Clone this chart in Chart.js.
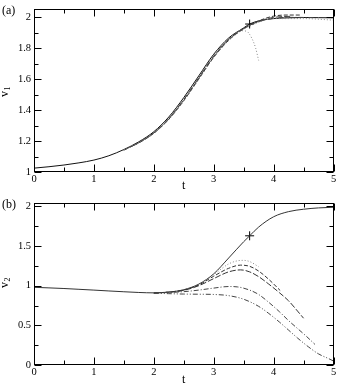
<!DOCTYPE html>
<html>
<head>
<meta charset="utf-8">
<script src="https://cdn.jsdelivr.net/npm/chart.js@4.4.1/dist/chart.umd.min.js"></script>
<style>
  html, body { margin: 0; padding: 0; background: #fff; }
  #wrap { position: relative; width: 339px; height: 388px; overflow: hidden; }
  canvas { position: absolute; left: 0; }
</style>
</head>
<body>
<div id="wrap">
  <canvas id="ca" width="339" height="194" style="top:0"></canvas>
  <canvas id="cb" width="339" height="194" style="top:194px"></canvas>
</div>
<script>
// ---------- tick labels ----------
const xTicks = [0, 1, 2, 3, 4, 5];
const xTickLabels = ["0", "1", "2", "3", "4", "5"];
const xMinor = [0.5, 1.5, 2.5, 3.5, 4.5];
const y1Ticks = [1, 1.2, 1.4, 1.6, 1.8, 2];
const y1TickLabels = ["1", "1.2", "1.4", "1.6", "1.8", "2"];
const y1Minor = [1.1, 1.3, 1.5, 1.7, 1.9];
const y2Ticks = [0, 0.5, 1, 1.5, 2];
const y2TickLabels = ["0", "0.5", "1", "1.5", "2"];
const y2Minor = [0.25, 0.75, 1.25, 1.75];

// ---------- panel (a): v1 ----------
const aSolidT = [0, 0.25, 0.5, 0.75, 1, 1.25, 1.5, 1.75, 2, 2.25, 2.5, 2.75, 3, 3.25, 3.5, 3.6, 3.75, 4, 4.25, 4.5, 4.75, 5];
const aSolidV = [1.025, 1.034, 1.045, 1.059, 1.077, 1.105, 1.145, 1.195, 1.26, 1.355, 1.48, 1.62, 1.76, 1.865, 1.93, 1.955, 1.975, 1.99, 1.995, 1.997, 1.996, 1.995];
const a1T = [1.5, 1.75, 2, 2.25, 2.5, 2.75, 3, 3.25, 3.45, 3.55, 3.64, 3.7, 3.75];
const a1V = [1.143, 1.19, 1.252, 1.342, 1.462, 1.6, 1.742, 1.85, 1.912, 1.908, 1.86, 1.8, 1.72];
const a2T = [1.5, 1.75, 2, 2.25, 2.5, 2.75, 3, 3.25, 3.5, 3.75, 4, 4.25, 4.47];
const a2V = [1.142, 1.188, 1.25, 1.34, 1.46, 1.6, 1.74, 1.85, 1.925, 1.975, 2.006, 2.013, 2.013];
const a3T = [1.5, 1.75, 2, 2.25, 2.5, 2.75, 3, 3.25, 3.5, 3.75, 4, 4.3];
const a3V = [1.142, 1.189, 1.251, 1.343, 1.465, 1.605, 1.745, 1.855, 1.925, 1.972, 1.998, 2.005];
const a4T = [1.5, 1.75, 2, 2.25, 2.5, 2.75, 3, 3.25, 3.5, 3.75, 4, 4.35, 4.7];
const a4V = [1.143, 1.19, 1.253, 1.345, 1.468, 1.608, 1.748, 1.857, 1.926, 1.97, 1.992, 1.998, 1.996];
const a5T = [1.5, 1.75, 2, 2.25, 2.5, 2.75, 3, 3.25, 3.5, 3.75, 4, 4.5, 5];
const a5V = [1.142, 1.188, 1.249, 1.338, 1.458, 1.598, 1.738, 1.848, 1.92, 1.965, 1.99, 1.99, 1.98];
const aMarkT = [3.6];
const aMarkV = [1.955];

// ---------- panel (b): v2 ----------
const bSolidT = [0, 0.25, 0.5, 0.75, 1, 1.25, 1.5, 1.75, 2, 2.25, 2.5, 2.75, 3, 3.25, 3.5, 3.6, 3.75, 4, 4.25, 4.5, 4.75, 5];
const bSolidV = [0.98, 0.973, 0.965, 0.955, 0.945, 0.934, 0.924, 0.915, 0.91, 0.92, 0.95, 1.02, 1.15, 1.35, 1.555, 1.63, 1.74, 1.87, 1.935, 1.965, 1.982, 1.99];
const b1T = [2, 2.25, 2.5, 2.75, 3, 3.25, 3.4, 3.5, 3.6, 3.75];
const b1V = [0.91, 0.92, 0.948, 1.015, 1.14, 1.275, 1.315, 1.32, 1.305, 1.24];
const b2T = [2, 2.25, 2.5, 2.75, 3, 3.25, 3.45, 3.6, 3.75, 3.92, 4.11];
const b2V = [0.91, 0.92, 0.946, 1.01, 1.12, 1.22, 1.26, 1.245, 1.185, 1.08, 0.94];
const b3T = [2, 2.25, 2.5, 2.75, 3, 3.25, 3.45, 3.6, 3.75, 3.92, 4.1, 4.25, 4.4, 4.5];
const b3V = [0.91, 0.918, 0.942, 1.0, 1.09, 1.175, 1.2, 1.175, 1.115, 1.02, 0.91, 0.81, 0.68, 0.59];
const b4T = [2, 2.25, 2.5, 2.75, 3, 3.25, 3.4, 3.6, 3.75, 3.92, 4.1, 4.25, 4.4, 4.55, 4.69];
const b4V = [0.91, 0.915, 0.925, 0.945, 0.97, 0.99, 0.985, 0.945, 0.89, 0.79, 0.67, 0.56, 0.46, 0.36, 0.26];
const b5T = [2, 2.25, 2.5, 2.75, 3, 3.25, 3.5, 3.75, 3.92, 4.1, 4.25, 4.4, 4.58, 4.75, 4.92, 5];
const b5V = [0.905, 0.9, 0.895, 0.893, 0.89, 0.875, 0.83, 0.74, 0.65, 0.54, 0.44, 0.34, 0.23, 0.14, 0.08, 0.05];
const bMarkT = [3.6];
const bMarkV = [1.63];

// ---------- helpers ----------
const zip = (T, V) => T.map((t, i) => ({ x: t, y: V[i] }));
const SERIF = "'Liberation Serif', 'DejaVu Serif', serif";

function line(T, V, color, dash, width) {
  return {
    data: zip(T, V), borderColor: color, borderWidth: width || 1,
    borderDash: dash || [], pointRadius: 0, fill: false,
    cubicInterpolationMode: 'monotone'
  };
}
function marker(T, V) {
  return {
    data: zip(T, V), showLine: false, pointStyle: 'cross', pointRadius: 4.5,
    pointBorderWidth: 1, pointBorderColor: '#000', borderColor: '#000'
  };
}

function framePlugin(opts) {
  return {
    id: 'frame',
    afterDraw(chart) {
      const ctx = chart.ctx, a = chart.chartArea;
      const xs = chart.scales.x, ys = chart.scales.y;
      ctx.save();
      ctx.strokeStyle = '#000';
      ctx.lineWidth = 1;
      const L = Math.round(a.left) + 0.5, R = Math.round(a.right) - 0.5;
      const T = Math.round(a.top) + 0.5, B = Math.round(a.bottom) - 0.5;
      ctx.strokeRect(L, T, R - L, B - T);
      ctx.beginPath();
      const tick = (vals, len) => {
        vals.forEach(v => {
          const px = Math.round(xs.getPixelForValue(v)) + 0.5;
          ctx.moveTo(px, B); ctx.lineTo(px, B - len);
          ctx.moveTo(px, T); ctx.lineTo(px, T + len);
        });
      };
      const tickY = (vals, len) => {
        vals.forEach(v => {
          const py = Math.round(ys.getPixelForValue(v)) + 0.5;
          ctx.moveTo(L, py); ctx.lineTo(L + len, py);
          ctx.moveTo(R, py); ctx.lineTo(R - len, py);
        });
      };
      tick(xTicks, 7); tick(xMinor, 4);
      tickY(opts.yTicks, 7); tickY(opts.yMinor, 4);
      ctx.stroke();

      // texts
      ctx.fillStyle = '#000';
      ctx.font = '12px ' + SERIF;
      ctx.textAlign = 'left';
      ctx.textBaseline = 'alphabetic';
      ctx.fillText(opts.panel, 2, opts.panelY);
      ctx.textAlign = 'center';
      ctx.fillText('t', (a.left + a.right) / 2, opts.tY);

      // rotated y label with subscript
      ctx.save();
      ctx.translate(7.5, opts.yLabY);
      ctx.rotate(-Math.PI / 2);
      ctx.textAlign = 'left';
      ctx.font = '12px ' + SERIF;
      const w = ctx.measureText('v').width;
      ctx.font = '8px ' + SERIF;
      const w2 = ctx.measureText(opts.sub).width;
      const start = -(w + w2) / 2;
      ctx.font = '12px ' + SERIF;
      ctx.fillText('v', start, 0);
      ctx.font = '8px ' + SERIF;
      ctx.fillText(opts.sub, start + w + 0.5, 2.5);
      ctx.restore();
      ctx.restore();
    }
  };
}

function makeChart(id, datasets, yMin, yMax, yTicks, yLabels, yMinor, topPad, extra) {
  return new Chart(document.getElementById(id), {
    type: 'line',
    data: { datasets },
    options: {
      responsive: false, animation: false, devicePixelRatio: 1,
      layout: { padding: { top: topPad, right: 4, left: 0, bottom: 0 } },
      plugins: { legend: { display: false }, tooltip: { enabled: false } },
      elements: { line: { tension: 0.4 } },
      scales: {
        x: {
          type: 'linear', min: 0, max: 5,
          grid: { display: false, drawTicks: false, tickLength: 0 }, border: { display: false },
          afterBuildTicks: s => { s.ticks = xTicks.map(v => ({ value: v })); },
          afterFit: s => { s.height = 194 - extra.bottom; },
          ticks: {
            padding: 1, color: '#000', maxRotation: 0, autoSkip: false,
            font: { family: SERIF, size: 10.5 },
            callback: (v) => xTickLabels[xTicks.indexOf(v)]
          }
        },
        y: {
          type: 'linear', min: yMin, max: yMax,
          grid: { display: false, drawTicks: false, tickLength: 0 }, border: { display: false },
          afterBuildTicks: s => { s.ticks = yTicks.map(v => ({ value: v })); },
          afterFit: s => { s.width = 34; },
          ticks: {
            padding: 3, color: '#000', autoSkip: false,
            font: { family: SERIF, size: 10.5 },
            callback: (v) => yLabels[yTicks.indexOf(v)]
          }
        }
      }
    },
    plugins: [framePlugin(Object.assign({ yTicks, yMinor }, extra))]
  });
}

const DOT = [1, 2], DASH = [4, 2], LDASH = [6, 2], DDOT = [5, 2, 1, 2], DDDOT = [5, 2, 1, 2, 1, 2];

makeChart('ca', [
  line(a5T, a5V, '#888', DOT),
  line(a4T, a4V, '#444', DDOT),
  line(a3T, a3V, '#444', LDASH),
  line(a2T, a2V, '#333', DASH),
  line(a1T, a1V, '#888', DOT),
  line(aSolidT, aSolidV, '#111', [], 1),
  marker(aMarkT, aMarkV)
], 1, 2.05, y1Ticks, y1TickLabels, y1Minor, 9,
  { panel: '(a)', panelY: 14, tY: 189, yLabY: 92, sub: '1', bottom: 172 });

makeChart('cb', [
  line(b5T, b5V, '#444', DDDOT),
  line(b4T, b4V, '#444', DDOT),
  line(b3T, b3V, '#333', LDASH),
  line(b2T, b2V, '#333', DASH),
  line(b1T, b1V, '#888', DOT),
  line(bSolidT, bSolidV, '#333', [], 1),
  marker(bMarkT, bMarkV)
], 0, 2.04, y2Ticks, y2TickLabels, y2Minor, 8,
  { panel: '(b)', panelY: 14, tY: 189, yLabY: 89, sub: '2', bottom: 171 });
</script>
</body>
</html>
